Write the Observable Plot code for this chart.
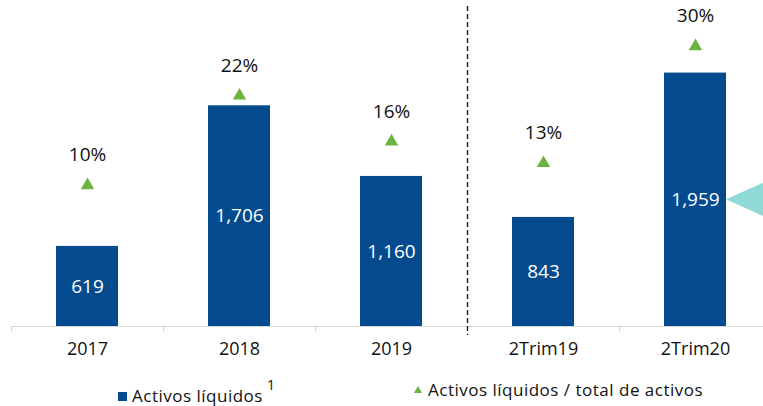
<!DOCTYPE html>
<html>
<head>
<meta charset="utf-8">
<script src="https://cdn.jsdelivr.net/npm/d3@7"></script>
<script src="https://cdn.jsdelivr.net/npm/@observablehq/plot@0.6"></script>
<style>
  body { margin: 0; background: #fff; font-family: "Open Sans", sans-serif; }
  #wrap { position: relative; width: 763px; height: 406px; overflow: hidden; background: #fff; }
  #chart svg { display: block; }
  #legend { position: absolute; left: 0; top: 372px; width: 763px; height: 34px; font-size: 17px; color: #111; letter-spacing: 0.5px; }
  .item { position: absolute; top: 7px; white-space: nowrap; line-height: 21px; }
  .sq { display: inline-block; width: 9px; height: 9px; background: #034b8e; vertical-align: middle; margin-right: 5px; position: relative; top: -1px; }
  .tri { display: inline-block; width: 0; height: 0; border-left: 4px solid transparent; border-right: 4px solid transparent; border-bottom: 7px solid #6db33f; margin-right: 6px; position: relative; top: -3px; }
  sup { font-size: 14px; position: relative; top: -5px; margin-left: 4px; }
</style>
</head>
<body>
<div id="wrap">
  <div id="chart"></div>
  <div id="legend"></div>
</div>
<script>
const categories = ["2017", "2018", "2019", "2Trim19", "2Trim20"];
const liquidAssets = [619, 1706, 1160, 843, 1959];
const ratioValues = [10.0, 22.9, 16.3, 13.2, 30.0];
const ratioLabels = ["10%", "22%", "16%", "13%", "30%"];
const legendLabels = ["Activos líquidos", "Activos líquidos / total de activos"];
const legendNote = "1";
const dividerBefore = "2Trim19";
const highlight = "2Trim20";

const barColor = "#034b8e";
const triColor = "#6db33f";
const calloutColor = "#8fd9d6";

// left axis (bars) and secondary axis (ratio) share the plot height
const yMax = 2520;
const ratioDomain = [-10.3, 36.6];
const ratioToY = d3.scaleLinear().domain(ratioDomain).range([0, yMax]);

const data = categories.map((c, i) => ({
  cat: c,
  value: liquidAssets[i],
  ratio: ratioValues[i],
  ratioLabel: ratioLabels[i]
}));

const W = 763, H = 372;
const xRange = [11, 771];
const step = (xRange[1] - xRange[0]) / categories.length;
const fmt = d3.format(",");

const chart = Plot.plot({
  width: W,
  height: H,
  marginLeft: 11,
  marginRight: 0,
  marginTop: 0,
  marginBottom: 46,
  style: { fontFamily: "Open Sans", background: "#fff", overflow: "visible" },
  x: { domain: categories, range: xRange, paddingInner: 0.59, paddingOuter: 0.295, axis: null },
  y: { domain: [0, yMax], axis: null },
  marks: [
    Plot.barY(data, { x: "cat", y: "value", fill: barColor }),
    Plot.ruleY([0], { stroke: "#d9d9d9", strokeWidth: 1.2 }),
    Plot.ruleX(categories.filter(c => c !== dividerBefore), {
      x: d => d, y1: 0, y2: 0, insetBottom: -6, dx: -step / 2, stroke: "#d9d9d9", strokeWidth: 1.2
    }),
    Plot.ruleX([dividerBefore], {
      x: d => d, dx: -step / 2, insetTop: 6, insetBottom: -9,
      stroke: "#111", strokeWidth: 1.3, strokeDasharray: "5,3"
    }),
    Plot.text(data, {
      x: "cat", y: d => d.value / 2, text: d => fmt(d.value),
      fill: "#fff", fontSize: 19, letterSpacing: 0.5
    }),
    Plot.dot(data, {
      x: "cat", y: d => ratioToY(d.ratio), symbol: "triangle", r: 5, fill: triColor, stroke: "none"
    }),
    Plot.text(data, {
      x: "cat", y: d => ratioToY(d.ratio), text: "ratioLabel", dy: -30,
      fill: "#111", fontSize: 19, letterSpacing: 0.6
    }),
    Plot.text(categories, {
      x: d => d, frameAnchor: "bottom", dy: 28, text: d => d,
      fill: "#111", fontSize: 18, letterSpacing: 0.7
    })
  ]
});

document.getElementById("chart").append(chart);

// callout wedge pointing at the highlighted bar's value
const xs = chart.scale("x");
const ys = chart.scale("y");
const hi = data.find(d => d.cat === highlight);
const tipX = xs.apply(highlight) + xs.bandwidth;
const tipY = ys.apply(hi.value / 2);
d3.select(chart).append("polygon")
  .attr("points", [[tipX, tipY], [tipX + 40, tipY - 18], [tipX + 40, tipY + 18]].map(p => p.join(",")).join(" "))
  .attr("fill", calloutColor);

// legend
const legend = document.getElementById("legend");
legend.innerHTML =
  `<div class="item" style="left:118px"><span class="sq"></span>${legendLabels[0]}<sup>${legendNote}</sup></div>` +
  `<div class="item" style="left:414px"><span class="tri"></span>${legendLabels[1]}</div>`;
</script>
</body>
</html>
